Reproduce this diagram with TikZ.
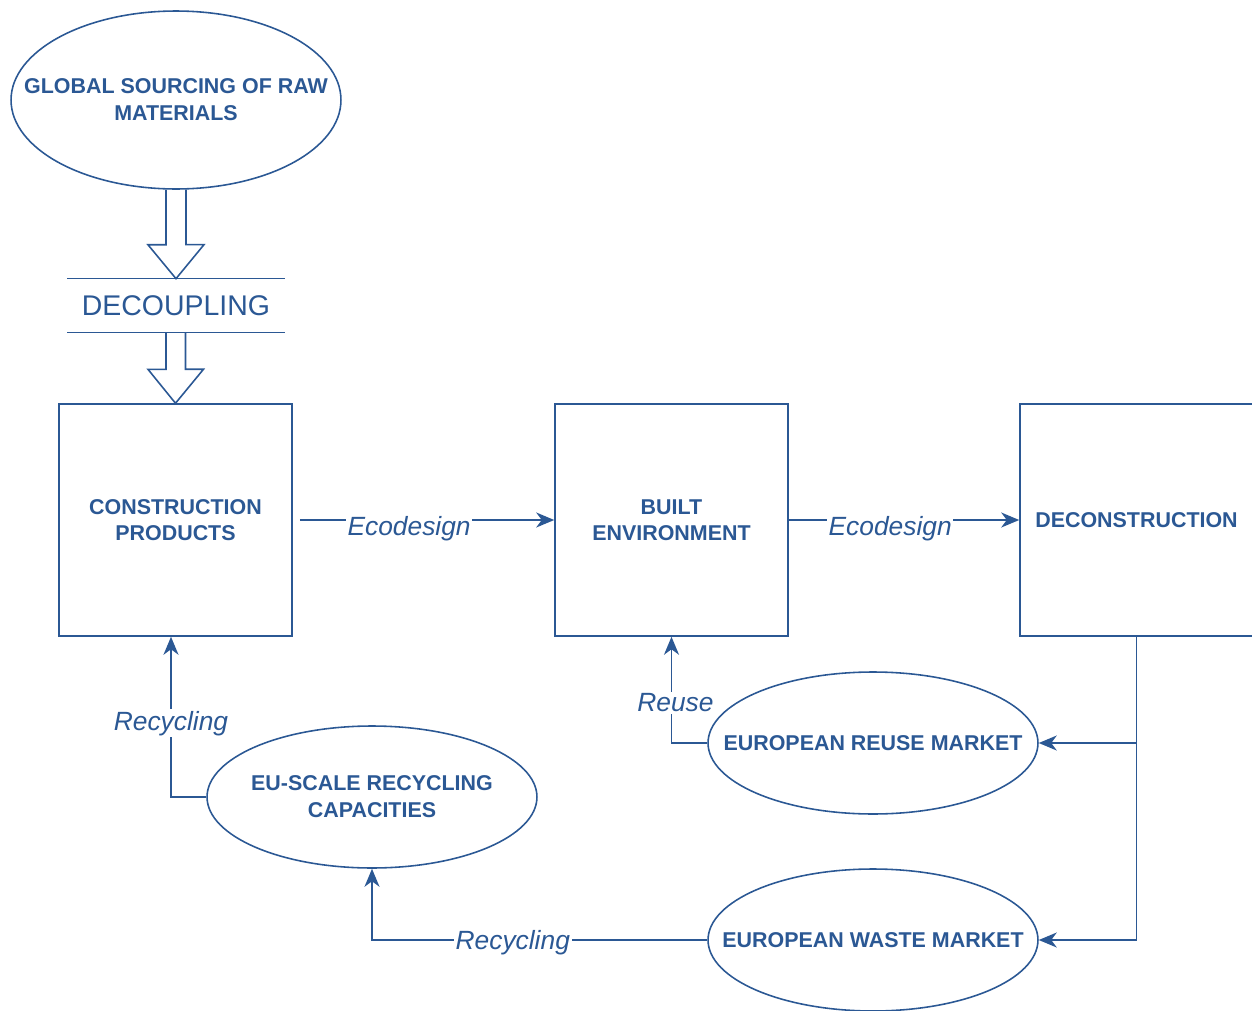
\documentclass[tikz,border=0pt]{standalone}
\usepackage{fontspec}
\setmainfont{Liberation Sans}
\usetikzlibrary{shapes.geometric,arrows.meta}
\definecolor{diagblue}{RGB}{43,88,148}

\tikzset{
	box/.style={draw=diagblue, line width=0.9pt, rectangle, inner sep=0pt,
		minimum width=4.66cm, minimum height=4.64cm, text=diagblue,
		font=\fontsize{12.2}{15}\selectfont\bfseries, align=center},
	oval/.style={draw=diagblue, line width=0.9pt, ellipse, inner sep=0pt,
		minimum width=6.6cm, minimum height=2.84cm},
	ovaltext/.style={text=diagblue, font=\fontsize{12.2}{15.3}\selectfont\bfseries, align=center},
	flow/.style={draw=diagblue, line width=0.9pt, -{Stealth[length=0.36cm, width=0.3cm, inset=0.11cm]}},
	flowlabel/.style={fill=white, text=diagblue, inner sep=1pt, font=\fontsize{15}{18}\selectfont\itshape},
	hollow/.style={draw=diagblue, line width=0.9pt, line join=miter}
}

\begin{document}
\begin{tikzpicture}[x=0.02cm, y=-0.02cm]
	\useasboundingbox (0, 0) rectangle (1252, 1011);

	% sourcing and decoupling
	\node[oval, minimum height=3.56cm, label={[ovaltext]center:GLOBAL SOURCING OF RAW\\MATERIALS}] (global) at (176, 100) {};
	\node[inner sep=0pt, minimum width=4.34cm, minimum height=1.06cm, text=diagblue,
		font=\fontsize{16.2}{18}\selectfont] (decoupling) at (176, 305.5) {DECOUPLING};
	\draw[draw=diagblue, line width=0.9pt] (decoupling.north west) -- (decoupling.north east);
	\draw[draw=diagblue, line width=0.9pt] (decoupling.south west) -- (decoupling.south east);

	% boxes
	\node[box] (construction) at (175.5, 520) {CONSTRUCTION\\PRODUCTS};
	\node[box] (built) at (671.5, 520) {BUILT\\ENVIRONMENT};
	\node[box] (deconstruction) at (1136.5, 520) {DECONSTRUCTION};

	% markets
	\node[oval, label={[ovaltext]center:EUROPEAN REUSE MARKET}] (reuse) at (873, 743) {};
	\node[oval, label={[ovaltext]center:EUROPEAN WASTE MARKET}] (waste) at (873, 940) {};
	\node[oval, label={[ovaltext]center:EU-SCALE RECYCLING\\CAPACITIES}] (euscale) at (372, 797) {};

	% hollow arrows
	\draw[hollow] (global.south) ++(-10, 0) -- ++(0, 55) -- ++(-18, 0)
		-- (decoupling.north) -- ++(28, -34) -- ++(-18, 0) -- ++(0, -55);
	\draw[hollow] (decoupling.south) ++(-10, 0) -- ++(0, 37) -- ++(-18, 0)
		-- (construction.north) -- ++(28, -34) -- ++(-18, 0) -- ++(0, -37);

	% flows
	\draw[flow, shorten <=4pt] (construction.east) -- (built.west)
		node[flowlabel, pos=0.445, yshift=-0.18cm] (eco1) {Ecodesign};
	\draw[flow] (built.east) -- (deconstruction.west)
		node[flowlabel, pos=0.44, yshift=-0.18cm] (eco2) {Ecodesign};
	\draw[flow] (deconstruction.south) |- (waste.east);
	\draw[flow] (deconstruction.south |- reuse.east) -- (reuse.east);
	\draw[flow] (reuse.west) -| (built.south)
		node[flowlabel, pos=0.69, xshift=0.08cm] (reuselabel) {Reuse};
	\coordinate (recin) at ([xshift=-0.09cm]construction.south);
	\draw[flow] (euscale.west) -| (recin)
		node[flowlabel, pos=0.73] (rec1) {Recycling};
	\draw[flow] (waste.west) -| (euscale.south)
		node[flowlabel, pos=0.29, yshift=-0.06cm] (rec2) {Recycling};
\end{tikzpicture}
\end{document}
